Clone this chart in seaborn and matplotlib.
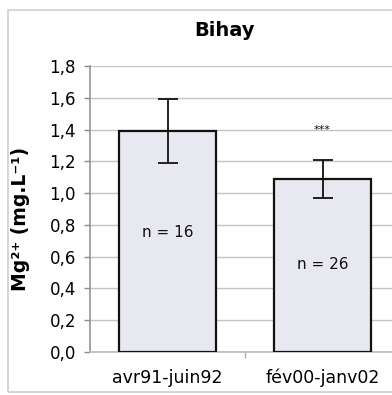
import seaborn as sns
import pandas as pd
import numpy as np
import matplotlib
matplotlib.use('Agg')
from matplotlib import pyplot as plt
from matplotlib.patches import Rectangle

# data
periodes = ['avr91-juin92', 'fév00-janv02']
moyennes = [1.39, 1.09]
ecarts = [0.20, 0.12]
effectifs = ['n = 16', 'n = 26']
n_y = [0.75, 0.55]
signif = ['', '***']

df = pd.DataFrame({'periode': periodes, 'Mg': moyennes})

sns.set_theme(style='white')
plt.rcParams['font.family'] = ['DejaVu Sans']
plt.rcParams['text.color'] = 'black'
plt.rcParams['xtick.color'] = 'black'
plt.rcParams['ytick.color'] = 'black'

fig = plt.figure(figsize=(3.92, 3.95), dpi=100)
# cadre du graphique (style Excel)
fig.patches.append(Rectangle((8 / 392, 3 / 395), 1.2, 382 / 395, transform=fig.transFigure,
                             fill=False, edgecolor='#d0d0d0', linewidth=1.2, zorder=0))

ax = fig.add_axes([90 / 392, 43 / 395, 310 / 392, 286 / 395])
sns.barplot(data=df, x='periode', y='Mg', ax=ax, color='#e8e8f0', width=0.63,
            edgecolor='#111111', linewidth=1.6, saturation=1, errorbar=None, zorder=3)
ax.errorbar(range(len(periodes)), moyennes, yerr=ecarts, fmt='none', ecolor='#111111',
            elinewidth=1.3, capsize=7, capthick=1.3, zorder=4)

for i, (t, y) in enumerate(zip(effectifs, n_y)):
    ax.text(i, y, t, ha='center', va='center', fontsize=11, color='#111111', zorder=5)
for i, s in enumerate(signif):
    if s:
        ax.text(i, moyennes[i] + ecarts[i] + 0.19, s, ha='center', va='center',
                fontsize=8, color='#111111', zorder=5)

ax.set_xlim(-0.5, 1.5)
ax.set_ylim(0, 1.8)
ax.set_yticks(np.arange(0, 1.81, 0.2))
ax.set_yticklabels([f'{v:.1f}'.replace('.', ',') for v in np.arange(0, 1.81, 0.2)])
ax.yaxis.grid(True, color='#c4c4c4', linewidth=1, zorder=0)
ax.set_axisbelow(True)
ax.tick_params(axis='y', left=True, length=4, width=1, color='#888888', labelsize=12, pad=6)
ax.tick_params(axis='x', bottom=False, labelsize=12.5, pad=6)
ax.set_xticks([0.5], minor=True)
ax.tick_params(axis='x', which='minor', bottom=True, length=4, color='#aaaaaa')
for sp in ['top', 'right']:
    ax.spines[sp].set_visible(False)
ax.spines['left'].set_color('#999999')
ax.spines['bottom'].set_color('#bbbbbb')
ax.set_xlabel('')
ax.set_ylabel('')
fig.text(21 / 392, 1 - 219 / 395, 'Mg²⁺ (mg.L⁻¹)', rotation=90, ha='center', va='center',
         fontsize=13.5, fontweight='bold')
fig.text(224 / 392, 1 - 30 / 395, 'Bihay', ha='center', va='center', fontsize=14, fontweight='bold')

fig.savefig('out.png', dpi=100)
